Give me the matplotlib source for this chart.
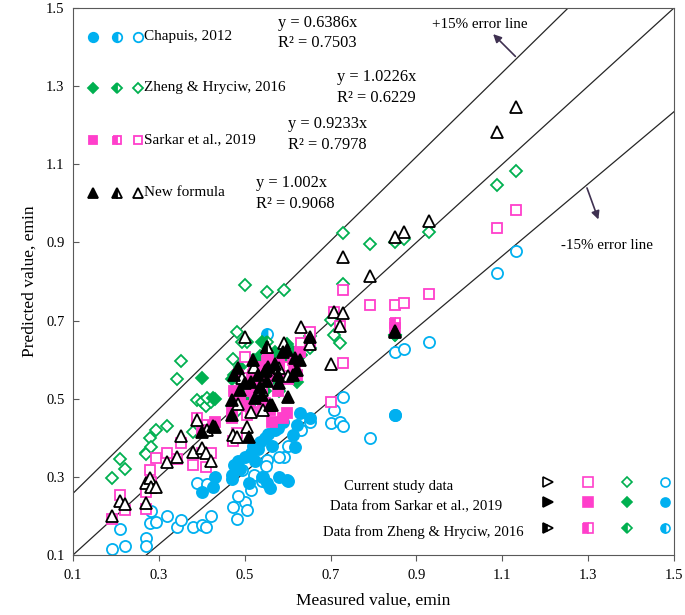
import numpy as np
import matplotlib
matplotlib.use("Agg")
import matplotlib.pyplot as plt

plt.rcParams['font.family'] = ['Liberation Serif', 'DejaVu Serif']

# ---- current study data (open markers) ----
cur_meas = [0.191, 0.209, 0.221, 0.270, 0.270, 0.279, 0.281, 0.293, 0.319, 0.342,
            0.351, 0.379, 0.388, 0.400, 0.409, 0.421, 0.412, 0.472, 0.481, 0.500,
            0.505, 0.551, 0.591, 0.630, 0.651, 0.700, 0.709, 0.721, 0.728, 0.730,
            0.791, 0.851, 0.870, 0.930, 1.088, 1.133, 0.493, 0.521, 0.549, 0.579,
            0.600, 0.540, 0.514, 0.542, 0.485]
cur_chapuis = [0.115, 0.166, 0.123, 0.143, 0.123, 0.182, 0.212, 0.184, 0.200, 0.172,
               0.189, 0.172, 0.284, 0.177, 0.172, 0.200, 0.282, 0.223, 0.192, 0.236,
               0.215, 0.343, 0.351, 0.420, 0.440, 0.438, 0.471, 0.440, 0.504, 0.430,
               0.399, 0.619, 0.627, 0.645, 0.821, 0.877, 0.317, 0.305, 0.328, 0.351,
               0.380, 0.290, 0.266, 0.300, 0.250]
cur_zheng = [0.297, 0.346, 0.320, 0.361, 0.358, 0.399, 0.376, 0.420, 0.430, 0.550,
             0.596, 0.415, 0.496, 0.491, 0.481, 0.491, 0.503, 0.601, 0.670, 0.791,
             0.645, 0.773, 0.778, 0.611, 0.629, 0.701, 0.663, 0.642, 0.924, 0.793,
             0.896, 0.901, 0.908, 0.926, 1.046, 1.082, 0.645, 0.600, 0.560, 0.520,
             0.560, 0.520, 0.490, 0.500, 0.470]
cur_sarkar = [0.192, 0.253, 0.215, 0.261, 0.218, 0.317, 0.287, 0.348, 0.361, 0.345,
              0.386, 0.330, 0.450, 0.361, 0.325, 0.361, 0.432, 0.392, 0.412, 0.606,
              0.458, 0.573, 0.580, 0.642, 0.670, 0.491, 0.721, 0.686, 0.778, 0.591,
              0.739, 0.739, 0.745, 0.768, 0.936, 0.982, 0.553, 0.581, 0.573, 0.578,
              0.558, 0.522, 0.466, 0.471, 0.486]
cur_new = [0.200, 0.238, 0.230, 0.284, 0.233, 0.297, 0.274, 0.274, 0.338, 0.351,
           0.404, 0.363, 0.445, 0.374, 0.361, 0.340, 0.420, 0.407, 0.402, 0.658,
           0.427, 0.632, 0.642, 0.683, 0.640, 0.588, 0.721, 0.686, 0.862, 0.719,
           0.814, 0.913, 0.926, 0.954, 1.182, 1.246, 0.553, 0.581, 0.573, 0.578,
           0.558, 0.522, 0.466, 0.471, 0.486]

# ---- data from Sarkar et al., 2019 (filled markers) ----
sar_meas = [0.400, 0.426, 0.430, 0.470, 0.470, 0.475, 0.484, 0.488, 0.500, 0.509,
            0.514, 0.520, 0.523, 0.530, 0.535, 0.540, 0.548, 0.551, 0.555, 0.558,
            0.563, 0.570, 0.577, 0.580, 0.590, 0.598, 0.600, 0.612, 0.616, 0.621,
            0.628, 0.651, 0.849]
sar_chapuis = [0.261, 0.274, 0.300, 0.305, 0.295, 0.330, 0.340, 0.320, 0.350, 0.285,
               0.360, 0.380, 0.340, 0.370, 0.390, 0.300, 0.400, 0.284, 0.410, 0.271,
               0.380, 0.420, 0.425, 0.300, 0.440, 0.292, 0.290, 0.407, 0.376, 0.432,
               0.463, 0.450, 0.458]
sar_zheng = [0.553, 0.501, 0.499, 0.550, 0.480, 0.560, 0.520, 0.580, 0.540, 0.500,
             0.560, 0.600, 0.530, 0.570, 0.610, 0.645, 0.520, 0.560, 0.600, 0.580,
             0.550, 0.620, 0.590, 0.560, 0.600, 0.640, 0.580, 0.620, 0.600, 0.542,
             0.630, 0.660, 0.663]
sar_sarkar = [0.420, 0.430, 0.440, 0.470, 0.450, 0.520, 0.560, 0.500, 0.540, 0.480,
              0.520, 0.560, 0.500, 0.530, 0.580, 0.510, 0.490, 0.550, 0.600, 0.470,
              0.440, 0.560, 0.520, 0.590, 0.450, 0.463, 0.550, 0.600, 0.580, 0.560,
              0.620, 0.640, 0.680]
sar_new = [0.415, 0.430, 0.427, 0.458, 0.496, 0.560, 0.578, 0.522, 0.540, 0.402,
           0.542, 0.600, 0.502, 0.560, 0.530, 0.510, 0.570, 0.545, 0.580, 0.484,
           0.484, 0.590, 0.560, 0.540, 0.620, 0.624, 0.504, 0.560, 0.604, 0.573,
           0.600, 0.658, 0.670]

# ---- data from Zheng & Hryciw, 2016 (hatched markers) ----
zh_meas = [0.551, 0.849]
zh_chapuis = [0.665, 0.458]
zh_zheng = [0.645, 0.663]
zh_sarkar = [0.600, 0.693]
zh_new = [0.632, 0.673]

eq_lines = ["y = 0.6386x", "y = 1.0226x", "y = 0.9233x", "y = 1.002x"]
r2_lines = ["R² = 0.7503", "R² = 0.6229", "R² = 0.7978", "R² = 0.9068"]

BLUE = "#00B0F0"
GREEN = "#00B050"
PINK = "#FF3FCB"
BLACK = "#000000"

fig = plt.figure(figsize=(6.85, 6.15), dpi=100)
ax = fig.add_axes([0.1066, 0.0976, 0.8774, 0.8895])

# error lines
xl = np.array([0.0, 1.6])
ax.plot(xl, 1.077 * xl + 0.15, "-", color="#262626", lw=0.9, zorder=1)
ax.plot(xl, xl, "-", color="#262626", lw=0.9, zorder=1)
ax.plot(xl, 0.923 * xl - 0.15, "-", color="#262626", lw=0.9, zorder=1)

ms = 8
mew = 1.3
series = [(cur_chapuis, sar_chapuis, zh_chapuis, "o", BLUE, ms),
          (cur_zheng, sar_zheng, zh_zheng, "D", GREEN, ms - 2.2),
          (cur_sarkar, sar_sarkar, zh_sarkar, "s", PINK, ms - 0.5),
          (cur_new, sar_new, zh_new, "^", BLACK, ms)]
z = 2
for cur, sar, zh, m, c, s in series:
    ax.plot(cur_meas, cur, m, ls="none", ms=s, mfc="white", mec=c, mew=mew, zorder=z)
    ax.plot(zh_meas, zh, m, ls="none", ms=s, mfc=c, mec=c, mew=mew, fillstyle="left",
            markerfacecoloralt="white", zorder=z + 0.5)
    ax.plot(sar_meas, sar, m, ls="none", ms=s, mfc=c, mec=c, mew=mew, zorder=z + 0.6)
    z += 1

# equations
eq_pos = [(0.577, 1.461), (0.716, 1.322), (0.600, 1.202), (0.526, 1.051)]
for eq, r2, (ex, ey) in zip(eq_lines, r2_lines, eq_pos):
    ax.text(ex, ey, eq, fontsize=11.8, va="center", ha="left")
    ax.text(ex, ey - 0.052, r2, fontsize=11.8, va="center", ha="left")

# arrows for error lines
ax.text(0.937, 1.458, "+15% error line", fontsize=10.8, va="center", ha="left")
ax.annotate("", xy=(1.074, 1.438), xytext=(1.135, 1.371),
            arrowprops=dict(arrowstyle="-|>", color="#3F3151", lw=1.2, mutation_scale=12))
ax.text(1.237, 0.893, "-15% error line", fontsize=10.8, va="center", ha="left")
ax.annotate("", xy=(1.326, 0.952), xytext=(1.295, 1.046),
            arrowprops=dict(arrowstyle="-|>", color="#3F3151", lw=1.2, mutation_scale=12))

# top-left legend (three marker styles per method)
leg_names = ["Chapuis, 2012", "Zheng & Hryciw, 2016", "Sarkar et al., 2019", "New formula"]
leg_y = [0.947, 0.854, 0.759, 0.662]
for (cur, sar, zh, m, c, s), name, ly in zip(series, leg_names, leg_y):
    s2 = s * 0.85
    ax.plot([0.033], [ly], m, ms=s2, mfc=c, mec=c, mew=mew, transform=ax.transAxes)
    ax.plot([0.073], [ly], m, ms=s2, mfc=c, mec=c, mew=mew, fillstyle="left",
            markerfacecoloralt="white", transform=ax.transAxes)
    ax.plot([0.108], [ly], m, ms=s2, mfc="white", mec=c, mew=mew, transform=ax.transAxes)
    ax.text(0.118, ly, name, fontsize=11, va="center", ha="left", transform=ax.transAxes)

# bottom-right legend (data sources)
src_names = ["Current study data", "Data from Sarkar et al., 2019", "Data from Zheng & Hryciw, 2016"]
src_text_x = [0.541, 0.571, 0.583]
src_y = [0.125, 0.088, 0.042]
col_x = [0.791, 0.857, 0.922, 0.985]
col_styles = [(">", BLACK, 6.5), ("s", PINK, 6.5), ("D", GREEN, 5.0), ("o", BLUE, 6.5)]
for i, (nm, tx, ty) in enumerate(zip(src_names, src_text_x, src_y)):
    ax.text(tx, ty, nm, fontsize=10.6, va="center", ha="center", transform=ax.transAxes)
    for cx, (m, c, s) in zip(col_x, col_styles):
        if i == 0:
            kw = dict(mfc="white")
        elif i == 1:
            kw = dict(mfc=c)
        else:
            kw = dict(mfc=c, fillstyle="left", markerfacecoloralt="white")
        ax.plot([cx], [ty + 0.008], m, ms=s, mec=c, mew=1.2, transform=ax.transAxes, **kw)

ticks = np.arange(0.1, 1.51, 0.2)
ax.set_xlim(0.1, 1.5)
ax.set_ylim(0.1, 1.5)
ax.set_xticks(ticks)
ax.set_yticks(ticks)
ax.set_xticklabels(["{:.1f}".format(v) for v in ticks])
ax.set_yticklabels(["{:.1f}".format(v) for v in ticks])
ax.tick_params(axis="x", direction="out", length=4, labelsize=10.5, color="#595959", pad=6)
ax.tick_params(axis="y", direction="in", length=4, labelsize=10.5, color="#595959", pad=6)
for sp in ax.spines.values():
    sp.set_color("#595959")
ax.set_xlabel("Measured value, emin", fontsize=12.5, labelpad=8)
ax.set_ylabel("Predicted value, emin", fontsize=12.5, labelpad=6)

fig.savefig("out.png", dpi=100)
